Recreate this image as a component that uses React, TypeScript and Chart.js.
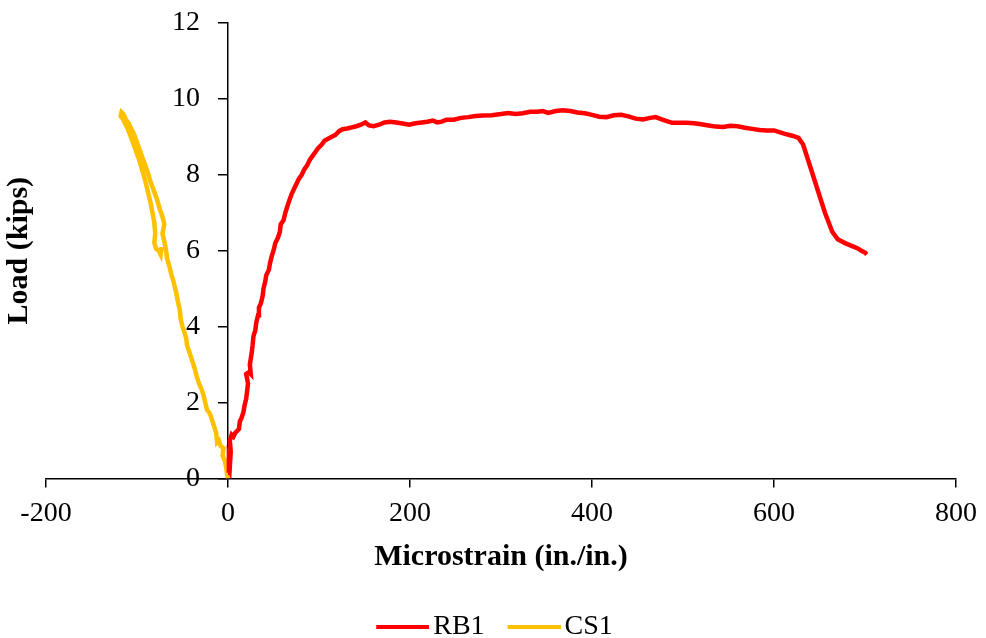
import React, { useEffect, useRef } from "react";
import { Chart, registerables } from "chart.js";

Chart.register(...registerables);

const rb1Strain = [0, 1, 2, 3, 2, 4, 6, 8, 10, 12, 13, 15, 17, 18, 20, 21, 22, 20, 23, 25, 24, 26, 27, 28, 30, 31, 33, 34, 36, 38, 39, 41, 42, 45, 46, 48, 50, 52, 55, 57, 58, 61, 63, 65, 67, 70, 72, 75, 78, 81, 84, 87, 90, 93, 96, 99, 103, 106, 110, 114, 118, 122, 126, 131, 136, 141, 146, 151, 155, 160, 166, 172, 178, 185, 192, 199, 206, 213, 219, 225, 230, 235, 240, 248, 256, 264, 272, 280, 290, 300, 308, 316, 324, 332, 340, 346, 352, 360, 368, 376, 384, 392, 400, 408, 416, 424, 432, 440, 448, 456, 464, 470, 478, 484, 488, 496, 504, 512, 520, 528, 536, 544, 552, 560, 568, 576, 584, 592, 600, 605, 612, 620, 627, 632, 640, 648, 656, 664, 670, 678, 686, 692, 696, 700, 702];
const rb1Load = [0.15, 0.4, 0.3, 0.7, 1.0, 1.15, 1.1, 1.2, 1.25, 1.3, 1.5, 1.6, 1.75, 1.9, 2.1, 2.3, 2.5, 2.75, 2.8, 2.75, 3.0, 3.3, 3.5, 3.75, 3.9, 4.1, 4.3, 4.5, 4.6, 4.8, 5.0, 5.2, 5.35, 5.5, 5.65, 5.85, 6.0, 6.2, 6.35, 6.5, 6.7, 6.8, 7.0, 7.15, 7.3, 7.5, 7.6, 7.75, 7.9, 8.0, 8.15, 8.25, 8.4, 8.5, 8.6, 8.7, 8.8, 8.9, 8.95, 9.0, 9.05, 9.15, 9.2, 9.22, 9.25, 9.28, 9.32, 9.38, 9.3, 9.28, 9.32, 9.38, 9.4, 9.38, 9.35, 9.32, 9.36, 9.38, 9.4, 9.43, 9.38, 9.4, 9.45, 9.45, 9.5, 9.52, 9.55, 9.56, 9.57, 9.6, 9.63, 9.6, 9.62, 9.66, 9.66, 9.68, 9.63, 9.68, 9.7, 9.68, 9.64, 9.62, 9.58, 9.53, 9.52, 9.57, 9.58, 9.54, 9.48, 9.46, 9.5, 9.52, 9.45, 9.4, 9.37, 9.37, 9.37, 9.36, 9.33, 9.3, 9.27, 9.26, 9.29, 9.28, 9.24, 9.21, 9.18, 9.17, 9.17, 9.13, 9.08, 9.03, 8.97, 8.8, 8.2, 7.6, 7.0, 6.5, 6.3, 6.2, 6.12, 6.06, 6.0, 5.95, 5.9];

const cs1Strain = [0, -1, -2, -4, -6, -5, -8, -10, -12, -13, -15, -17, -19, -21, -23, -25, -27, -29, -31, -34, -36, -38, -40, -42, -45, -46, -48, -50, -52, -53, -55, -57, -60, -62, -64, -67, -68, -70, -72, -70, -72, -75, -78, -81, -85, -88, -91, -94, -97, -100, -103, -106, -109, -112, -115, -117, -118, -115, -110, -106, -103, -100, -97, -94, -91, -88, -85, -83, -81, -80, -81, -79, -76, -74, -73];
const cs1Load = [0, 0.1, 0.3, 0.5, 0.6, 0.8, 0.85, 1.0, 0.95, 1.2, 1.35, 1.5, 1.65, 1.75, 1.8, 2.0, 2.2, 2.35, 2.45, 2.65, 2.85, 3.0, 3.15, 3.3, 3.5, 3.7, 3.85, 4.0, 4.2, 4.45, 4.65, 4.9, 5.2, 5.35, 5.55, 5.8, 6.0, 6.25, 6.45, 6.7, 6.9, 7.1, 7.35, 7.55, 7.8, 8.05, 8.25, 8.45, 8.65, 8.85, 9.05, 9.2, 9.35, 9.45, 9.6, 9.65, 9.55, 9.45, 9.2, 8.95, 8.75, 8.55, 8.35, 8.1, 7.85, 7.55, 7.25, 7.0, 6.75, 6.45, 6.2, 6.05, 6.0, 5.9, 6.1];

const seriesNames = ["RB1", "CS1"];
const seriesColors = ["#FF0000", "#FFC000"];
const xTicks = [-200, 0, 200, 400, 600, 800];
const yTicks = [0, 2, 4, 6, 8, 10, 12];

const FONT = "'Liberation Serif', 'Times New Roman', serif";
const TICK_SIZE = 28;
const TITLE_SIZE = 30;

function legendLine(color: string): HTMLCanvasElement {
  // 59px wide marker image; line occupies the right 53px so it sits close to the label text
  const c = document.createElement("canvas");
  c.width = 59;
  c.height = 4;
  const g = c.getContext("2d")!;
  g.fillStyle = color;
  g.fillRect(6, 0, 53, 4);
  return c;
}

const legendShift = {
  id: "legendShift",
  afterLayout(chart: any) {
    const lg = chart.legend;
    if (lg) {
      lg.left += 20.5;
      lg.right += 20.5;
    }
  },
};

export default function App() {
  const ref = useRef<HTMLCanvasElement | null>(null);
  useEffect(() => {
    if (!ref.current) return;
    const toPts = (xs: number[], ys: number[]) => xs.map((x, i) => ({ x, y: ys[i] }));
    const markers = seriesColors.map(legendLine);
    const chart = new Chart(ref.current, {
      type: "scatter",
      plugins: [legendShift],
      data: {
        datasets: [
          {
            label: seriesNames[0],
            data: toPts(rb1Strain, rb1Load),
            borderColor: seriesColors[0],
            backgroundColor: seriesColors[0],
            showLine: true,
            pointRadius: 0,
            borderWidth: 4.5,
            tension: 0,
          },
          {
            label: seriesNames[1],
            data: toPts(cs1Strain, cs1Load),
            borderColor: seriesColors[1],
            backgroundColor: seriesColors[1],
            showLine: true,
            pointRadius: 0,
            borderWidth: 4.5,
            tension: 0,
          },
        ],
      },
      options: {
        animation: false,
        responsive: true,
        maintainAspectRatio: false,
        layout: { padding: { left: -12, right: 22, top: 23, bottom: -13 } },
        plugins: {
          legend: {
            position: "bottom",
            labels: {
              usePointStyle: true,
              pointStyleWidth: 39,
              boxHeight: 4,
              color: "#000",
              padding: 13,
              font: { family: FONT, size: TICK_SIZE },
              generateLabels: (c: any) => {
                const items = Chart.defaults.plugins.legend.labels.generateLabels(c);
                return items.map((it: any, i: number) => ({
                  ...it,
                  text: i < items.length - 1 ? it.text + "  " : it.text,
                  pointStyle: markers[it.datasetIndex ?? i],
                }));
              },
            },
          },
          tooltip: { enabled: false },
        },
        scales: {
          x: {
            type: "linear",
            min: xTicks[0],
            max: xTicks[xTicks.length - 1],
            afterBuildTicks: (s: any) => {
              s.ticks = xTicks.map((v) => ({ value: v }));
            },
            ticks: { color: "#000", font: { family: FONT, size: TICK_SIZE }, padding: 9 },
            grid: { display: true, drawOnChartArea: false, drawTicks: true, tickLength: 9, color: "#000", lineWidth: 1.5 },
            border: { display: true, color: "#000", width: 1.5 },
            title: {
              display: true,
              text: "Microstrain (in./in.)",
              color: "#000",
              font: { family: FONT, size: TITLE_SIZE, weight: "bold" },
              padding: { top: 0, bottom: 25 },
            },
          },
          y: {
            type: "linear",
            position: { x: 0 } as any,
            min: yTicks[0],
            max: yTicks[yTicks.length - 1],
            afterBuildTicks: (s: any) => {
              s.ticks = yTicks.map((v) => ({ value: v }));
            },
            ticks: {
              color: "#000",
              font: { family: FONT, size: TICK_SIZE },
              callback: (v: any) => String(v) + "    ",
            },
            grid: { display: true, drawOnChartArea: false, drawTicks: true, tickLength: 9, color: "#000", lineWidth: 1.5 },
            border: { display: true, color: "#000", width: 1.5 },
          },
          yT: {
            type: "linear",
            axis: "y",
            position: "left",
            min: yTicks[0],
            max: yTicks[yTicks.length - 1],
            ticks: { display: false },
            grid: { display: false },
            border: { display: false },
            title: {
              display: true,
              text: "Load (kips)",
              color: "#000",
              font: { family: FONT, size: TITLE_SIZE, weight: "bold" },
              padding: { top: 13, bottom: 1 },
            },
          } as any,
        },
      },
    });
    return () => chart.destroy();
  }, []);
  return (
    <div style={{ position: "fixed", left: 0, top: 0, width: 986, height: 638, background: "#fff" }}>
      <canvas ref={ref} />
    </div>
  );
}
